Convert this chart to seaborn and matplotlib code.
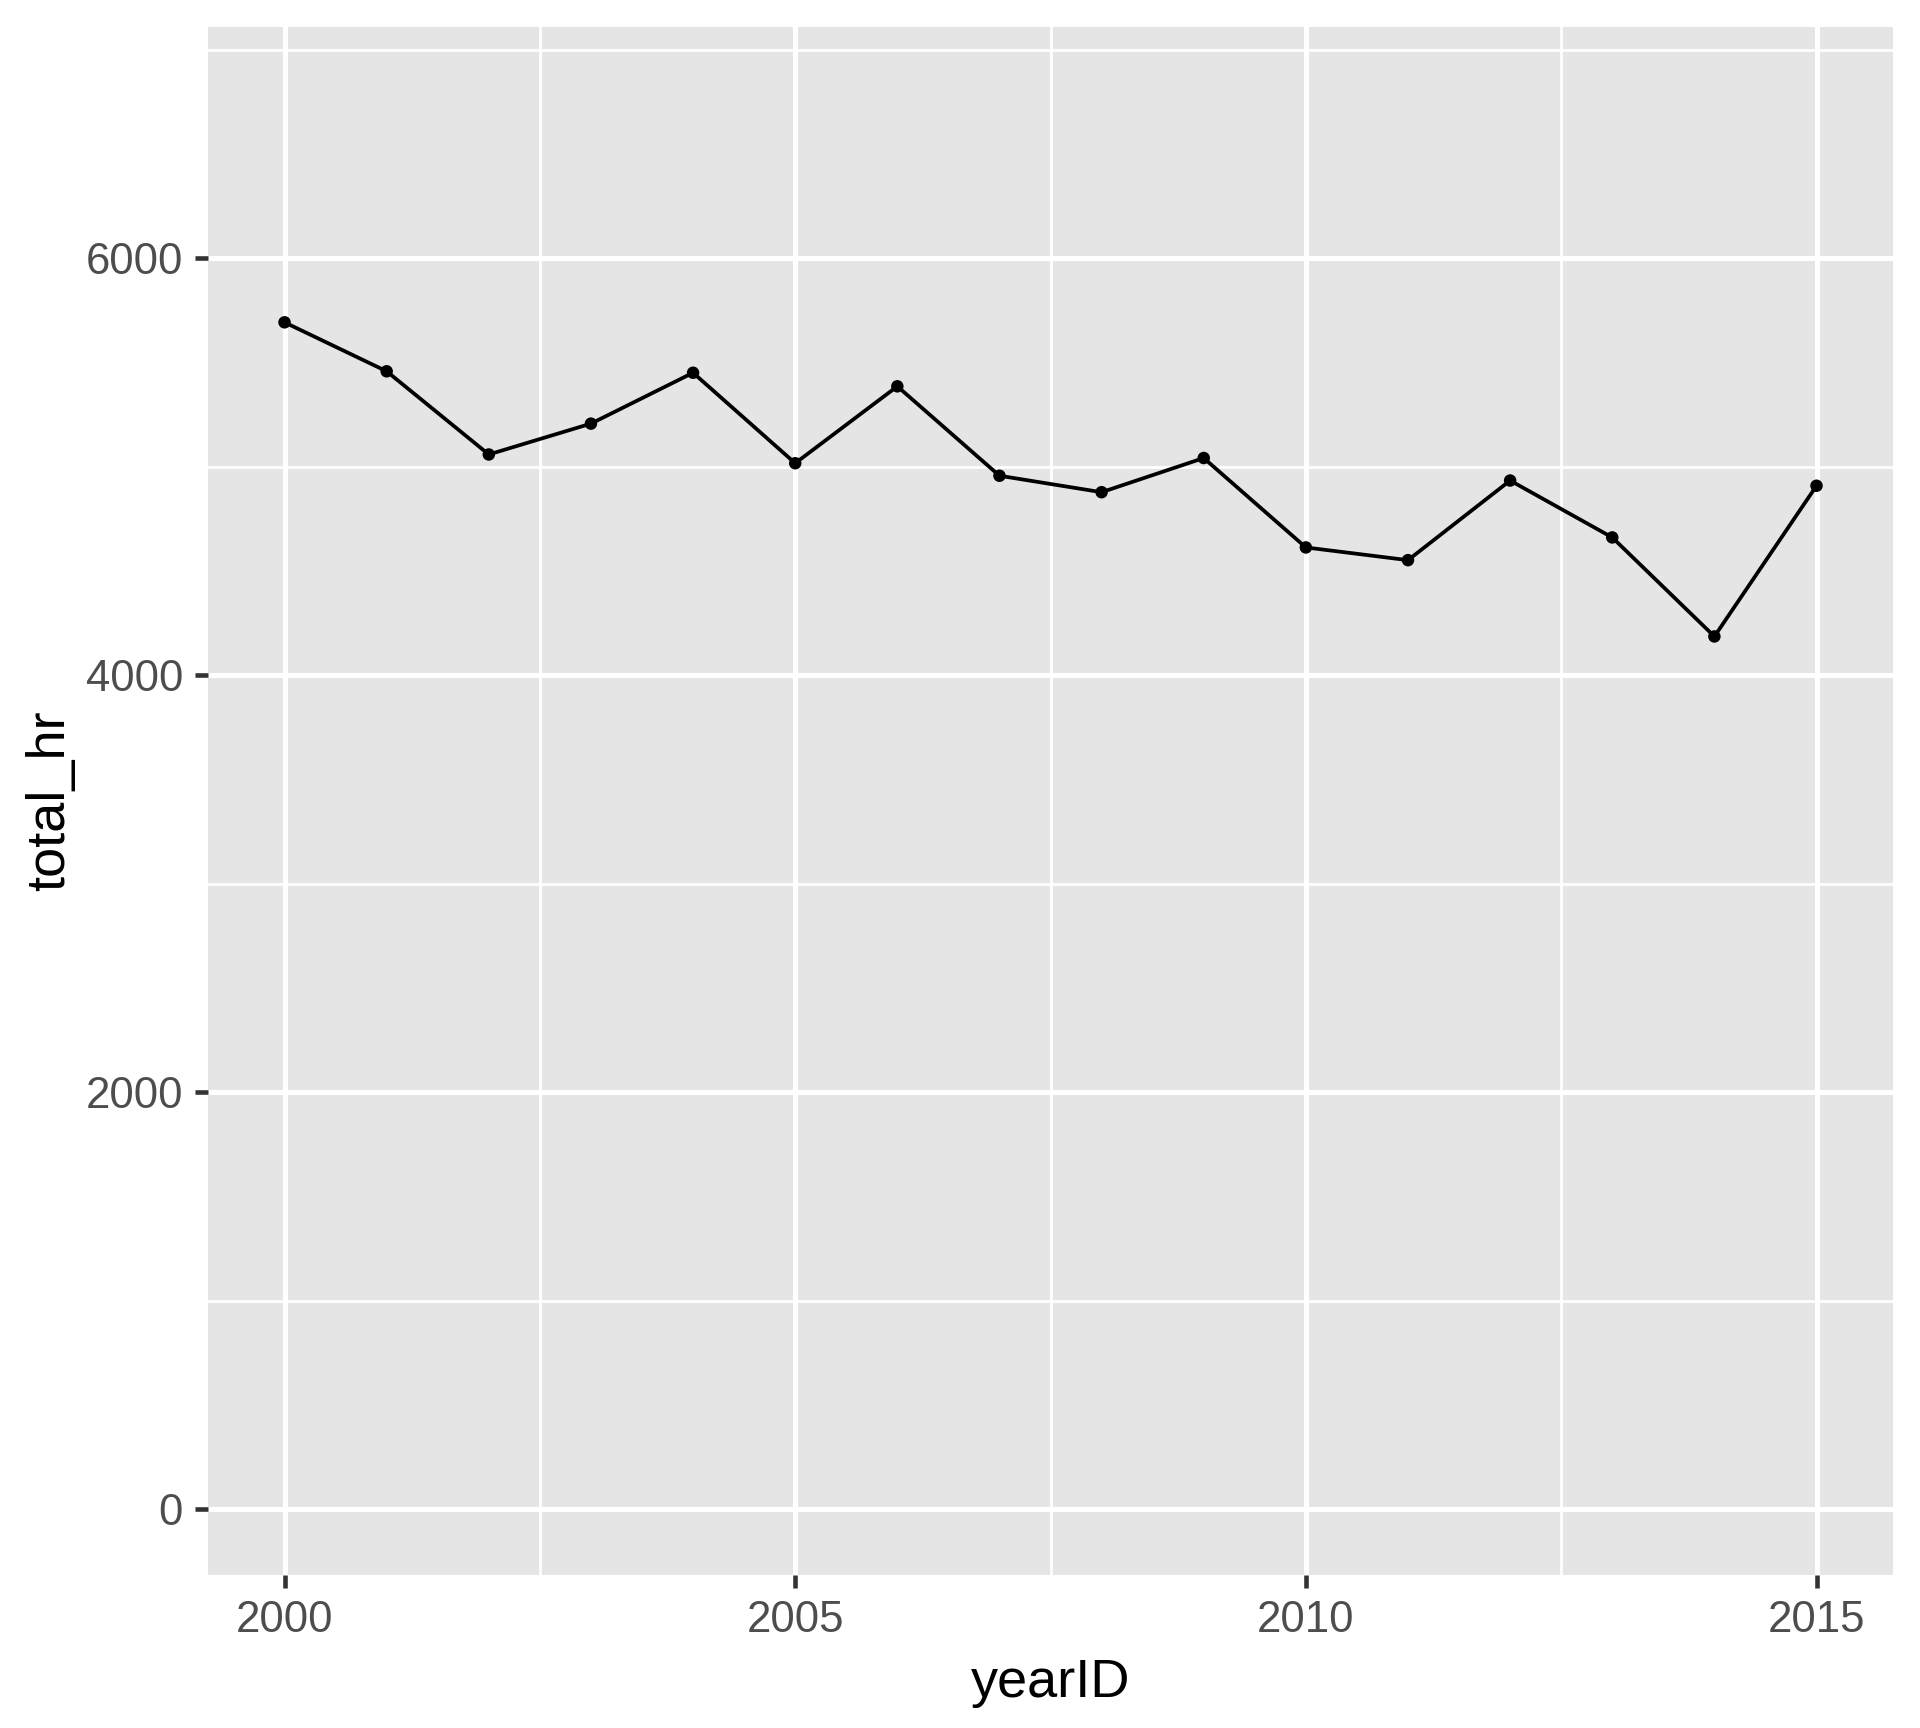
import numpy as np
import pandas as pd
import matplotlib
matplotlib.use("Agg")
import matplotlib.pyplot as plt
import seaborn as sns
from matplotlib.ticker import MultipleLocator

# ── Data ───────────────────────────────────────────────────────────────────────
years = [2000, 2001, 2002, 2003, 2004, 2005, 2006, 2007,
         2008, 2009, 2010, 2011, 2012, 2013, 2014, 2015]
total_hr = [5693, 5458, 5059, 5207, 5451, 5017, 5386, 4957,
            4878, 5042, 4613, 4552, 4934, 4661, 4186, 4909]

df = pd.DataFrame({"yearID": years, "total_hr": total_hr})

# ── Style (ggplot2 grey look) ──────────────────────────────────────────────────
sns.set_theme(style="darkgrid", rc={
    "axes.facecolor": "#E5E5E5",
    "grid.color": "white",
    "axes.edgecolor": "none",
})
plt.rcParams["font.family"] = ["Liberation Sans", "DejaVu Sans"]

fig, ax = plt.subplots(figsize=(6.4, 5.76), dpi=300)
fig.subplots_adjust(left=0.1083, right=0.986, top=0.9844, bottom=0.0885)

sns.lineplot(data=df, x="yearID", y="total_hr", ax=ax, color="black",
             linewidth=0.9, zorder=3)
sns.scatterplot(data=df, x="yearID", y="total_hr", ax=ax, color="black",
                s=9, edgecolor="none", zorder=4)

ax.set_xlim(1999.25, 2015.75)
ax.set_ylim(-317, 7110)
ax.xaxis.set_major_locator(MultipleLocator(5))
ax.xaxis.set_minor_locator(MultipleLocator(2.5))
ax.yaxis.set_major_locator(MultipleLocator(2000))
ax.yaxis.set_minor_locator(MultipleLocator(1000))

ax.grid(which="major", color="white", linewidth=1.2)
ax.grid(which="minor", color="white", linewidth=0.65)
ax.set_axisbelow(True)

ax.tick_params(which="major", length=3.2, width=1.1, color="#333333",
               labelsize=10.5, labelcolor="#4D4D4D", pad=2.8,
               bottom=True, left=True)
ax.tick_params(which="minor", length=0, bottom=False, left=False)

ax.set_xlabel("yearID", fontsize=13, color="black", labelpad=4)
ax.set_ylabel("total_hr", fontsize=13, color="black", labelpad=2.5)

plt.savefig("out.png", dpi=300)
plt.close()
